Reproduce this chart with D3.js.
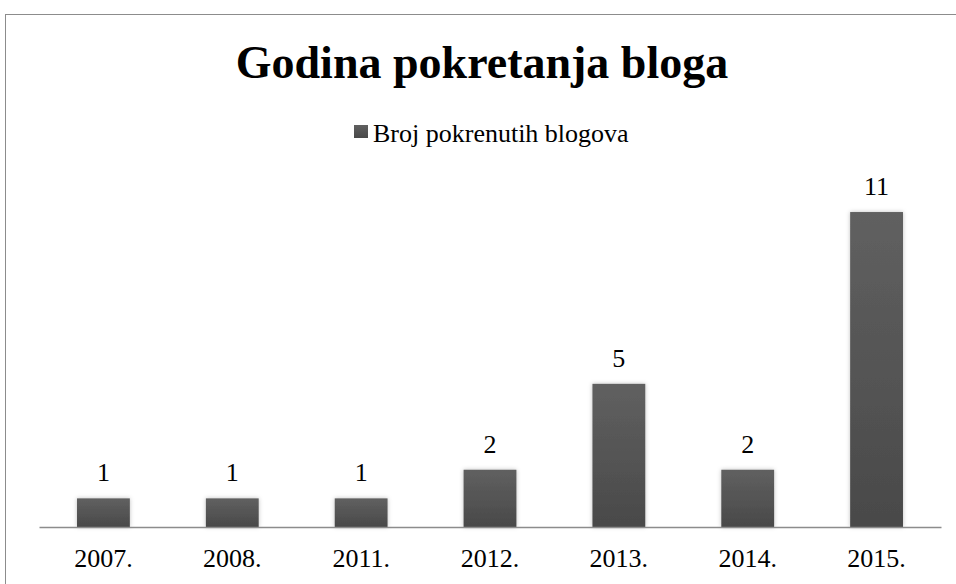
<!DOCTYPE html>
<html>
<head>
<meta charset="utf-8">
<script src="https://cdn.jsdelivr.net/npm/d3@7"></script>
<style>
  body { margin: 0; background: #fff; }
  text { font-family: "Liberation Serif", "Times New Roman", serif; fill: #000; }
</style>
</head>
<body>
<svg id="chart" width="956" height="584"></svg>
<script>
// Data.
var YEARS = ['2007.', '2008.', '2011.', '2012.', '2013.', '2014.', '2015.'];
var BLOG_COUNTS = [1, 1, 1, 2, 5, 2, 11];
var SERIES_NAME = 'Broj pokrenutih blogova';
var TITLE = 'Godina pokretanja bloga';

// Layout.
var WIDTH = 956;
var HEIGHT = 584;
var PLOT_LEFT = 39;
var PLOT_RIGHT = 941;
var BASELINE = 527;
var PLOT_TOP = 183.4;
var SERIF = '"Liberation Serif", "Times New Roman", serif';

var svg = d3.select('#chart');

var defs = svg.append('defs');
var grad = defs.append('linearGradient')
  .attr('id', 'barGrad')
  .attr('x1', 0).attr('y1', 0).attr('x2', 0).attr('y2', 1);
grad.append('stop').attr('offset', '0%').attr('stop-color', '#606060');
grad.append('stop').attr('offset', '100%').attr('stop-color', '#494949');

var shadow = defs.append('filter')
  .attr('id', 'shadow')
  .attr('x', '-20%').attr('y', '-20%').attr('width', '140%').attr('height', '140%');
shadow.append('feDropShadow')
  .attr('dx', 0).attr('dy', 0).attr('stdDeviation', 2)
  .attr('flood-color', '#000').attr('flood-opacity', 0.25);

// Chart frame.
svg.append('rect')
  .attr('x', 5.5).attr('y', 14.5)
  .attr('width', WIDTH).attr('height', HEIGHT)
  .attr('fill', 'none')
  .attr('stroke', '#8c8c8c')
  .attr('stroke-width', 1);

var x = d3.scaleBand()
  .domain(YEARS)
  .range([PLOT_LEFT, PLOT_RIGHT])
  .paddingInner(0.59)
  .paddingOuter(0.295);

var y = d3.scaleLinear()
  .domain([0, 12])
  .range([BASELINE, PLOT_TOP]);

var data = YEARS.map(function(d, i) { return {year: d, num: BLOG_COUNTS[i]}; });

// Bars.
svg.append('g').selectAll('rect')
  .data(data)
  .enter()
  .append('rect')
  .attr('x', function(d) { return x(d.year); })
  .attr('y', function(d) { return y(d.num); })
  .attr('width', x.bandwidth())
  .attr('height', function(d) { return BASELINE - y(d.num); })
  .attr('fill', 'url(#barGrad)')
  .attr('filter', 'url(#shadow)');

// Axis.
var xAxis = d3.axisBottom(x).tickSize(0).tickPadding(0);
var axisG = svg.append('g')
  .attr('transform', 'translate(0,' + BASELINE + ')')
  .call(xAxis);
axisG.select('.domain').attr('stroke', '#8c8c8c').attr('stroke-width', 1.5);
axisG.selectAll('text')
  .attr('dy', null)
  .attr('y', 40)
  .style('font-family', SERIF)
  .style('font-size', '26px')
  .attr('fill', '#000');

// Value labels.
svg.append('g').selectAll('text')
  .data(data)
  .enter()
  .append('text')
  .attr('x', function(d) { return x(d.year) + x.bandwidth() / 2; })
  .attr('y', function(d) { return y(d.num) - 17; })
  .attr('text-anchor', 'middle')
  .style('font-family', SERIF)
  .style('font-size', '26px')
  .text(function(d) { return d.num; });

// Title.
svg.append('text')
  .attr('x', 482)
  .attr('y', 78)
  .attr('text-anchor', 'middle')
  .style('font-family', SERIF)
  .style('font-size', '46px')
  .style('font-weight', 'bold')
  .text(TITLE);

// Legend.
var legend = svg.append('g').attr('transform', 'translate(354,125)');
legend.append('rect')
  .attr('width', 14).attr('height', 13)
  .attr('fill', 'url(#barGrad)');
legend.append('text')
  .attr('x', 19)
  .attr('y', 17)
  .style('font-family', SERIF)
  .style('font-size', '26px')
  .text(SERIES_NAME);
</script>
</body>
</html>
